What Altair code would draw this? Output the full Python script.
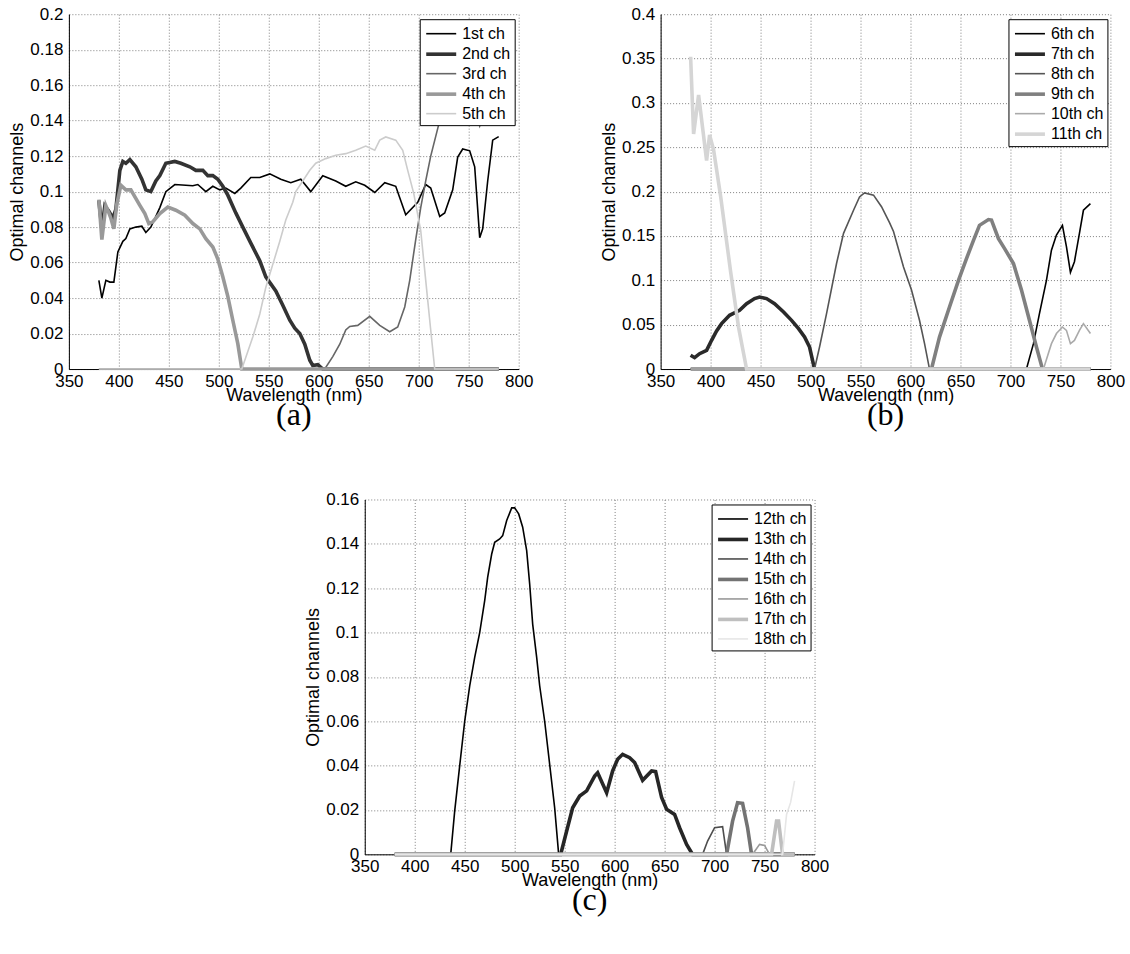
import altair as alt
import pandas as pd

# ---------------- panel (a): channels 1-5 ----------------
a_names = ["1st ch", "2nd ch", "3rd ch", "4th ch", "5th ch"]
a_colors = ["#000000", "#333333", "#666666", "#999999", "#cccccc"]
a_widths = [1.6, 3.6, 1.6, 3.6, 1.6]

ch1_wl = [380, 383, 387, 391, 395, 399, 404, 407, 411, 417, 423, 427, 432, 437, 441, 447, 456, 467, 474, 479,
          487, 494, 501, 507, 516, 522, 532, 541, 551, 562, 572, 582, 592, 604, 617, 627, 637, 646, 656, 666,
          677, 687, 699, 707, 712, 721, 726, 734, 739, 744, 751, 756, 761, 764, 769, 774, 780]
ch1_val = [0.050, 0.040, 0.050, 0.049, 0.049, 0.066, 0.072, 0.0735, 0.079, 0.080, 0.0805, 0.077, 0.080, 0.086,
           0.091, 0.100, 0.104, 0.1036, 0.1033, 0.104, 0.100, 0.103, 0.101, 0.102, 0.099, 0.102, 0.108, 0.108,
           0.110, 0.107, 0.105, 0.107, 0.100, 0.109, 0.106, 0.103, 0.1055, 0.1036, 0.0995, 0.105, 0.103, 0.087,
           0.094, 0.104, 0.102, 0.086, 0.088, 0.101, 0.1195, 0.124, 0.123, 0.114, 0.074, 0.079, 0.106, 0.129, 0.131]

ch2_wl = [380, 383, 386, 390, 394, 397, 401, 404, 407, 411, 417, 423, 427, 432, 437, 441, 447, 456, 462, 471,
          477, 484, 489, 494, 499, 504, 509, 517, 524, 532, 541, 547, 557, 564, 571, 576, 581, 586, 591, 594,
          599, 604, 780]
ch2_val = [0.095, 0.079, 0.092, 0.089, 0.085, 0.090, 0.112, 0.117, 0.116, 0.118, 0.114, 0.107, 0.101, 0.100,
           0.106, 0.109, 0.116, 0.117, 0.116, 0.114, 0.112, 0.112, 0.109, 0.109, 0.107, 0.103, 0.098, 0.088,
           0.080, 0.071, 0.061, 0.052, 0.044, 0.036, 0.0275, 0.023, 0.020, 0.014, 0.005, 0.002, 0.0025, 0.0, 0.0]

ch3_wl = [380, 606, 614, 621, 627, 631, 639, 651, 661, 671, 679, 686, 691, 697, 702, 707, 712, 721, 728, 736,
          745, 753, 758, 761, 764, 770, 780]
ch3_val = [0.0, 0.0, 0.007, 0.014, 0.022, 0.024, 0.0246, 0.0297, 0.0246, 0.021, 0.0237, 0.035, 0.050, 0.073,
           0.091, 0.106, 0.120, 0.140, 0.160, 0.178, 0.180, 0.160, 0.142, 0.137, 0.142, 0.165, 0.180]

ch4_wl = [380, 383, 387, 390, 392, 395, 398, 402, 407, 412, 421, 426, 430, 434, 441, 449, 457, 466, 474, 481,
          487, 494, 499, 504, 509, 514, 519, 523, 780]
ch4_val = [0.0955, 0.073, 0.092, 0.088, 0.085, 0.079, 0.093, 0.1036, 0.101, 0.101, 0.0923, 0.0876, 0.082, 0.083,
           0.0876, 0.0913, 0.0895, 0.0867, 0.082, 0.079, 0.0735, 0.0688, 0.062, 0.052, 0.041, 0.0275, 0.0143,
           0.0, 0.0]

ch5_wl = [380, 523, 534, 541, 547, 554, 561, 567, 574, 577, 584, 591, 597, 607, 617, 627, 637, 647, 656, 661,
          667, 677, 684, 689, 695, 702, 707, 712, 716, 780]
ch5_val = [0.0, 0.0, 0.018, 0.031, 0.046, 0.059, 0.072, 0.084, 0.094, 0.100, 0.106, 0.112, 0.116, 0.1186,
           0.1205, 0.1214, 0.1233, 0.1257, 0.1233, 0.129, 0.1308, 0.129, 0.1233, 0.112, 0.099, 0.078, 0.050,
           0.022, 0.0, 0.0]

# ---------------- panel (b): channels 6-11 ----------------
b_names = ["6th ch", "7th ch", "8th ch", "9th ch", "10th ch", "11th ch"]
b_colors = ["#000000", "#2a2a2a", "#555555", "#808080", "#aaaaaa", "#d5d5d5"]
b_widths = [1.6, 3.6, 1.6, 3.6, 1.6, 3.6]

ch6_wl = [380, 716, 723, 729, 736, 741, 746, 752, 756, 760, 764, 769, 773, 780]
ch6_val = [0.0, 0.0, 0.0286, 0.0625, 0.100, 0.134, 0.151, 0.162, 0.138, 0.109, 0.121, 0.153, 0.179, 0.1865]

ch7_wl = [380, 384, 389, 396, 401, 406, 411, 419, 429, 436, 444, 449, 456, 464, 473, 481, 488, 494, 499, 502,
          504, 780]
ch7_val = [0.0155, 0.0128, 0.0173, 0.0211, 0.0324, 0.043, 0.0512, 0.0606, 0.0662, 0.0737, 0.0794, 0.0812,
           0.0794, 0.0737, 0.0643, 0.0549, 0.0456, 0.0361, 0.0248, 0.0098, 0.0, 0.0]

ch8_wl = [380, 504, 509, 516, 526, 533, 543, 549, 554, 563, 571, 579, 583, 593, 601, 609, 614, 619, 780]
ch8_val = [0.0, 0.0, 0.0248, 0.0625, 0.119, 0.153, 0.179, 0.194, 0.1985, 0.196, 0.183, 0.165, 0.155, 0.115,
           0.089, 0.055, 0.029, 0.0, 0.0]

ch9_wl = [380, 621, 629, 639, 648, 656, 663, 669, 678, 681, 688, 694, 703, 711, 719, 726, 732, 780]
ch9_val = [0.0, 0.0, 0.036, 0.070, 0.100, 0.1245, 0.145, 0.162, 0.1685, 0.168, 0.147, 0.136, 0.119, 0.089,
           0.055, 0.0248, 0.0, 0.0]

ch10_wl = [380, 733, 741, 746, 752, 756, 760, 764, 769, 773, 780]
ch10_val = [0.0, 0.0, 0.0286, 0.040, 0.0474, 0.0436, 0.0286, 0.0323, 0.0436, 0.0512, 0.040]

ch11_wl = [380, 383, 388, 396, 399, 403, 410, 420, 428, 436, 780]
ch11_val = [0.352, 0.265, 0.309, 0.235, 0.264, 0.247, 0.195, 0.110, 0.047, 0.0, 0.0]

# ---------------- panel (c): channels 12-18 ----------------
c_names = ["12th ch", "13th ch", "14th ch", "15th ch", "16th ch", "17th ch", "18th ch"]
c_colors = ["#000000", "#262626", "#4d4d4d", "#737373", "#999999", "#bfbfbf", "#e6e6e6"]
c_widths = [1.6, 3.6, 1.6, 3.6, 1.6, 3.6, 1.6]

ch12_wl = [380, 436, 440, 445, 450, 455, 460, 465, 470, 473, 477, 480, 485, 488, 492, 497, 500, 504, 508, 512,
           515, 518, 522, 525, 530, 535, 540, 544, 780]
ch12_val = [0.0, 0.0, 0.0196, 0.040, 0.060, 0.076, 0.0888, 0.100, 0.1144, 0.125, 0.1354, 0.1407, 0.1422,
            0.1437, 0.1505, 0.1562, 0.1562, 0.1535, 0.1475, 0.1369, 0.1219, 0.1038, 0.0888, 0.076, 0.060,
            0.0406, 0.021, 0.0, 0.0]

ch13_wl = [380, 546, 552, 558, 565, 572, 580, 583, 592, 598, 603, 608, 615, 620, 628, 637, 641, 647, 652, 660,
           665, 672, 678, 780]
ch13_val = [0.0, 0.0, 0.0105, 0.021, 0.0263, 0.0286, 0.0353, 0.0368, 0.0278, 0.0376, 0.0429, 0.0451, 0.0436,
            0.0414, 0.0334, 0.0376, 0.0373, 0.0256, 0.0203, 0.018, 0.012, 0.0045, 0.0, 0.0]

ch14_wl = [380, 688, 693, 700, 708, 712, 780]
ch14_val = [0.0, 0.0, 0.006, 0.012, 0.0125, 0.0, 0.0]

ch15_wl = [380, 712, 718, 723, 728, 733, 737, 780]
ch15_val = [0.0, 0.0, 0.015, 0.0233, 0.023, 0.012, 0.0, 0.0]

ch16_wl = [380, 738, 745, 750, 755, 780]
ch16_val = [0.0, 0.0, 0.0045, 0.004, 0.0, 0.0]

ch17_wl = [380, 757, 762, 764, 768, 780]
ch17_val = [0.0, 0.0, 0.015, 0.015, 0.0, 0.0]

ch18_wl = [380, 768, 772, 776, 780]
ch18_val = [0.0, 0.0, 0.018, 0.0233, 0.0331]

x_ticks = [350, 400, 450, 500, 550, 600, 650, 700, 750, 800]

SANS = "Liberation Sans"
W, H = 450, 355
# horizontal legend swatch: 30 px long on a 20 px layout cell
SWATCH = "M-1.5,0H1.5"


def panel(names, series, colors, widths, ymax, yticks, caption, legend_x, legend_y):
    legend = alt.Legend(
        orient="none", legendX=legend_x, legendY=legend_y,
        symbolType=SWATCH, symbolSize=400, symbolOffset=6, labelFont=SANS, labelFontSize=16,
        labelColor="black", fillColor="white", strokeColor="black", padding=3.5,
        rowPadding=0.5, labelOffset=9, cornerRadius=0,
    )
    layers = []
    for name, (wl, val) in zip(names, series):
        df = pd.DataFrame({"wl": wl, "v": val, "ch": name})
        layers.append(
            alt.Chart(df).mark_line().encode(
                x=alt.X("wl:Q", title="Wavelength (nm)",
                        scale=alt.Scale(domain=[350, 800], nice=False, zero=False),
                        axis=alt.Axis(values=x_ticks, format="d", labelFlush=False,
                                      labelOverlap=False, labelPadding=4,
                                      titleBaseline="alphabetic", titleY=31.5)),
                y=alt.Y("v:Q", title="Optimal channels",
                        scale=alt.Scale(domain=[0, ymax], nice=False),
                        axis=alt.Axis(values=yticks, format="~g", labelFlush=False,
                                      labelOverlap=False, labelPadding=6,
                                      titleBaseline="middle", titleX=-51)),
                color=alt.Color("ch:N", title=None,
                                scale=alt.Scale(domain=names, range=colors), legend=legend),
                strokeWidth=alt.StrokeWidth("ch:N", title=None,
                                            scale=alt.Scale(type="ordinal", domain=names, range=widths),
                                            legend=legend),
            )
        )
    cap = alt.Chart(pd.DataFrame({"t": [caption]})).mark_text(
        font="Liberation Serif", fontSize=32, baseline="middle", color="black"
    ).encode(x=alt.value(W / 2), y=alt.value(H + 46), text="t:N")
    return alt.layer(*layers, cap).properties(width=W, height=H)


pa = panel(a_names,
           [(ch1_wl, ch1_val), (ch2_wl, ch2_val), (ch3_wl, ch3_val), (ch4_wl, ch4_val), (ch5_wl, ch5_val)],
           a_colors, a_widths, 0.2,
           [0, 0.02, 0.04, 0.06, 0.08, 0.1, 0.12, 0.14, 0.16, 0.18, 0.2], "(a)", 351, 5)
pb = panel(b_names,
           [(ch6_wl, ch6_val), (ch7_wl, ch7_val), (ch8_wl, ch8_val), (ch9_wl, ch9_val),
            (ch10_wl, ch10_val), (ch11_wl, ch11_val)],
           b_colors, b_widths, 0.4,
           [0, 0.05, 0.1, 0.15, 0.2, 0.25, 0.3, 0.35, 0.4], "(b)", 348, 5)
pc = panel(c_names,
           [(ch12_wl, ch12_val), (ch13_wl, ch13_val), (ch14_wl, ch14_val), (ch15_wl, ch15_val),
            (ch16_wl, ch16_val), (ch17_wl, ch17_val), (ch18_wl, ch18_val)],
           c_colors, c_widths, 0.16,
           [0, 0.02, 0.04, 0.06, 0.08, 0.1, 0.12, 0.14, 0.16], "(c)", 347, 5)

top = alt.hconcat(pa, pb, spacing=142, bounds="flush").resolve_scale(
    color="independent", strokeWidth="independent"
).resolve_legend(color="independent", strokeWidth="independent")

chart = alt.vconcat(top, pc, spacing=59.5, center=True).resolve_scale(
    color="independent", strokeWidth="independent"
).resolve_legend(
    color="independent", strokeWidth="independent"
).properties(
    padding={"left": 8.5, "top": 5, "right": 5, "bottom": 5},
    background="white",
).configure_view(
    strokeWidth=0
).configure_axis(
    labelFont=SANS, labelFontSize=17, labelColor="black",
    titleFont=SANS, titleFontSize=18, titleFontWeight="normal", titleColor="black",
    domainColor="black", domainWidth=1, ticks=False,
    grid=True, gridColor="#808080", gridDash=[1, 2], gridWidth=1, gridOpacity=1,
)

chart.save("out.html", embed_options={"renderer": "svg", "actions": False})
